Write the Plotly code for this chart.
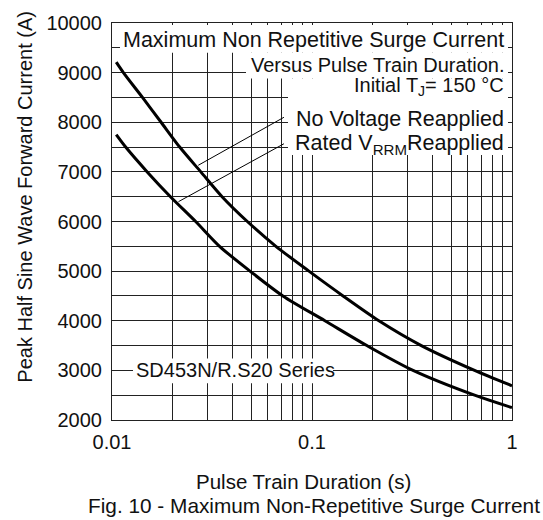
import plotly.graph_objects as go

# Curve data (Pulse train duration in s, current in A)
x_no_voltage = [0.0105, 0.0114, 0.0142, 0.0176, 0.0218, 0.0278, 0.0355, 0.0475, 0.066, 0.0965, 0.143, 0.216, 0.352, 0.65, 1.0]
y_no_voltage = [9210, 9000, 8500, 8000, 7500, 7000, 6500, 6000, 5500, 5000, 4500, 4000, 3500, 3000, 2690]

x_rated = [0.0105, 0.0117, 0.0150, 0.0196, 0.0262, 0.0345, 0.049, 0.0715, 0.116, 0.188, 0.32, 0.65, 1.0]
y_rated = [7750, 7500, 7000, 6500, 6000, 5500, 5000, 4500, 4000, 3500, 3000, 2500, 2250]

# Axis ticks
x_tickvals = [0.01, 0.02, 0.03, 0.04, 0.05, 0.06, 0.07, 0.08, 0.09,
              0.1, 0.2, 0.3, 0.4, 0.5, 0.6, 0.7, 0.8, 0.9, 1]
x_ticktext = ["0.01", "", "", "", "", "", "", "", "",
              "0.1", "", "", "", "", "", "", "", "", "1"]
y_tickvals = list(range(2000, 10001, 500))
y_ticktext = [str(v) if v % 1000 == 0 else "" for v in y_tickvals]

# Leader lines: (curve point) -> (label end)
leader_no_voltage = [(0.0270, 7133), (0.0724, 8100)]
leader_rated = [(0.0215, 6400), (0.0724, 7567)]

FONT = "Liberation Sans, Arial, sans-serif"
TXT = "#111"

fig = go.Figure()
fig.add_trace(go.Scatter(x=x_no_voltage, y=y_no_voltage, mode="lines",
                         line=dict(color="black", width=3, shape="spline", smoothing=0.8),
                         showlegend=False, hoverinfo="skip"))
fig.add_trace(go.Scatter(x=x_rated, y=y_rated, mode="lines",
                         line=dict(color="black", width=3, shape="spline", smoothing=0.8),
                         showlegend=False, hoverinfo="skip"))

# white boxes hiding the grid behind the labels: (left, top, width, height) in px of the plot area
boxes = [
    (8, 2, 388, 28),
    (134, 30, 262, 26),
    (176, 56, 220, 77),
    (21, 338, 200, 25),
]
PLOT_W, PLOT_H = 400, 400
for bx, by, bw, bh in boxes:
    fig.add_shape(type="rect", xref="x domain", yref="y domain",
                  x0=bx / PLOT_W, x1=(bx + bw) / PLOT_W,
                  y0=1 - (by + bh) / PLOT_H, y1=1 - by / PLOT_H,
                  fillcolor="white", line=dict(width=0), layer="above")

for (xa, ya), (xb, yb) in [leader_no_voltage, leader_rated]:
    fig.add_shape(type="line", xref="x", yref="y", x0=xa, y0=ya, x1=xb, y1=yb,
                  line=dict(color="black", width=1), layer="above")

labels = [
    ("Maximum Non Repetitive Surge Current", 0.9575, 21.5),
    ("Versus Pulse Train Duration.", 0.895, 20),
    ("Initial T<sub>J</sub>= 150 °C", 0.84, 20),
    ("No Voltage Reapplied", 0.7575, 21.5),
    ("Rated V<sub>RRM</sub>Reapplied", 0.695, 21.5),
]
for txt, yy, fs in labels:
    fig.add_annotation(text=txt, xref="x domain", yref="y domain", x=0.985, y=yy,
                       xanchor="right", yanchor="middle", showarrow=False,
                       font=dict(family=FONT, size=fs, color=TXT))

fig.add_annotation(text="SD453N/R.S20 Series", xref="x domain", yref="y domain",
                   x=0.056, y=0.125, xanchor="left", yanchor="middle", showarrow=False,
                   font=dict(family=FONT, size=20, color=TXT))

# axis titles and caption
fig.add_annotation(text="Peak Half Sine Wave Forward Current (A)", xref="paper", yref="paper",
                   x=-0.2175, y=0.5625, textangle=-90, xanchor="center", yanchor="middle",
                   showarrow=False, font=dict(family=FONT, size=20, color=TXT))
fig.add_annotation(text="Pulse Train Duration (s)", xref="paper", yref="paper",
                   x=0.4775, y=-0.155, xanchor="center", yanchor="middle",
                   showarrow=False, font=dict(family=FONT, size=20.5, color=TXT))
fig.add_annotation(text="Fig. 10 - Maximum Non-Repetitive Surge Current", xref="paper", yref="paper",
                   x=0.505, y=-0.215, xanchor="center", yanchor="middle",
                   showarrow=False, font=dict(family=FONT, size=20.8, color=TXT))

fig.update_layout(
    width=543, height=520,
    margin=dict(l=112, r=31, t=20, b=100),
    paper_bgcolor="white", plot_bgcolor="white",
    font=dict(family=FONT, size=20, color=TXT),
)
fig.update_xaxes(type="log", range=[-2, 0], tickvals=x_tickvals, ticktext=x_ticktext,
                 showgrid=True, gridcolor="#222", gridwidth=1,
                 showline=True, linecolor="#222", linewidth=1, mirror=True,
                 ticks="", ticklabelstandoff=4, zeroline=False,
                 tickfont=dict(family=FONT, size=20, color=TXT))
fig.update_yaxes(range=[2000, 10000], tickvals=y_tickvals, ticktext=y_ticktext,
                 showgrid=True, gridcolor="#222", gridwidth=1,
                 showline=True, linecolor="#222", linewidth=1, mirror=True,
                 ticks="", ticklabelstandoff=5, zeroline=False,
                 tickfont=dict(family=FONT, size=20, color=TXT))

fig.write_html("out.html", config={"displayModeBar": False},
               post_script="document.body.style.margin='0px';")
